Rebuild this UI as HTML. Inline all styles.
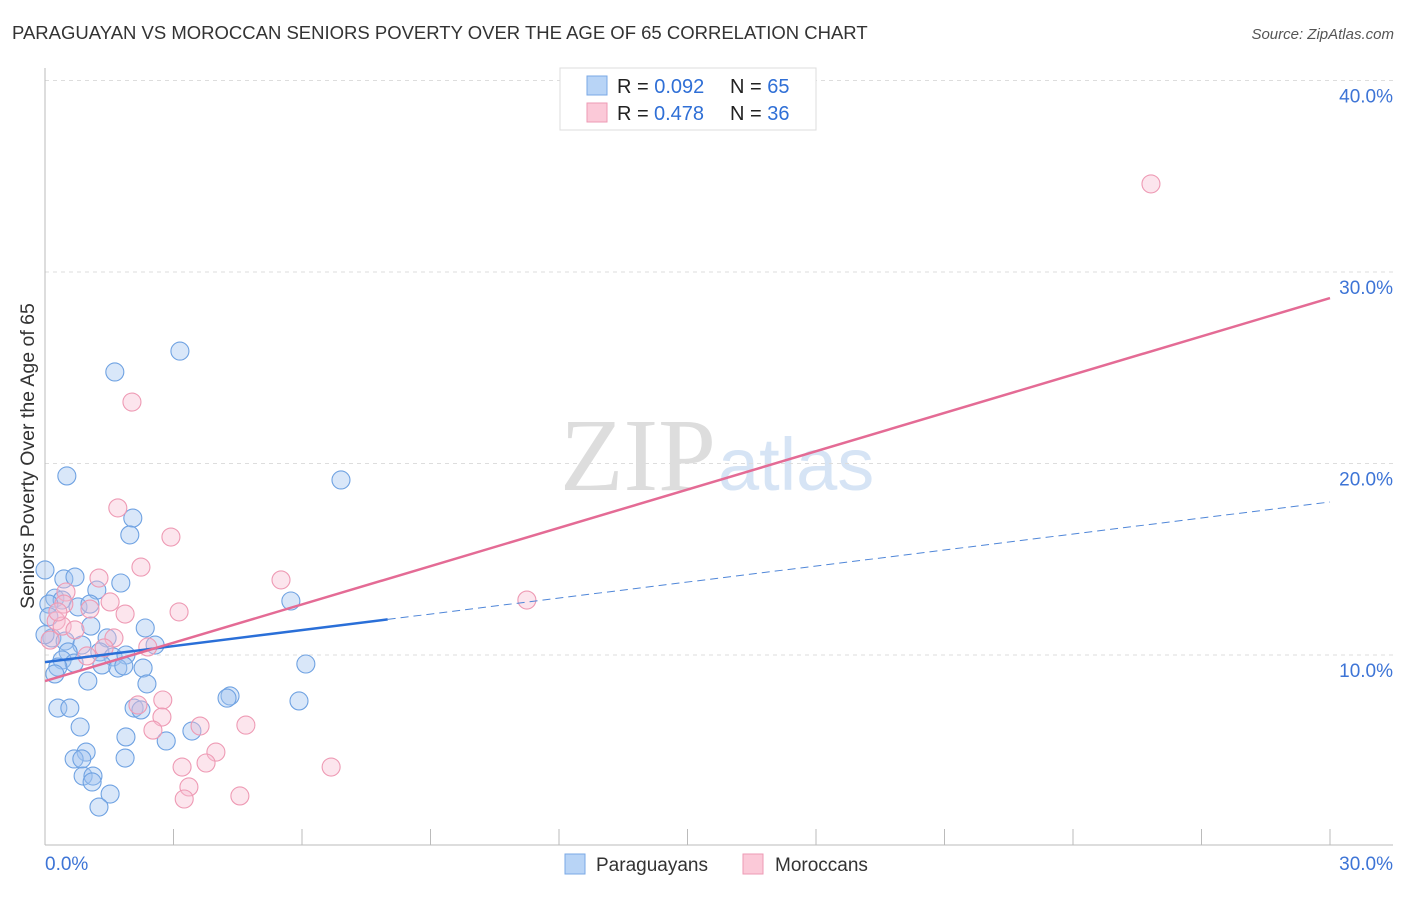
<!DOCTYPE html>
<html><head><meta charset="utf-8"><style>
body{margin:0;background:#fff;font-family:"Liberation Sans",sans-serif}
</style></head><body>
<svg id="c" width="1406" height="892" xmlns="http://www.w3.org/2000/svg" font-family="Liberation Sans, sans-serif">
<text x="12" y="39" font-size="18.5" fill="#333">PARAGUAYAN VS MOROCCAN SENIORS POVERTY OVER THE AGE OF 65 CORRELATION CHART</text>
<text x="1394" y="39" font-size="15" fill="#555" font-style="italic" text-anchor="end">Source: ZipAtlas.com</text>
<text x="716" y="490" font-size="104" fill="#ddd" text-anchor="end" font-family="Liberation Serif, serif">ZIP</text>
<text x="718" y="490" font-size="74" fill="#d6e4f5">atlas</text>
<g id="grid"></g><g id="axes"></g><g id="pts"></g><g id="lines"></g>
<text transform="translate(34,456) rotate(-90)" font-size="19.5" fill="#333" text-anchor="middle">Seniors Poverty Over the Age of 65</text>
<g>
<rect x="560" y="68" width="256" height="62" fill="#fff" stroke="#ddd"/>
<rect x="587" y="76" width="20" height="19" fill="#b8d4f6" stroke="#7aa8e6"/>
<rect x="587" y="103" width="20" height="19" fill="#fbc9d8" stroke="#ee9ab4"/>
<text x="617" y="93" font-size="20" fill="#222">R = <tspan fill="#2f6fd6">0.092</tspan></text>
<text x="730" y="93" font-size="20" fill="#222">N = <tspan fill="#2f6fd6">65</tspan></text>
<text x="617" y="120" font-size="20" fill="#222">R = <tspan fill="#2f6fd6" x="654">0.478</tspan></text>
<text x="730" y="120" font-size="20" fill="#222">N = <tspan fill="#2f6fd6">36</tspan></text>
</g>
<g>
<rect x="565" y="854" width="20" height="20" fill="#b8d4f6" stroke="#7aa8e6"/>
<text x="596" y="871" font-size="19" fill="#333">Paraguayans</text>
<rect x="743" y="854" width="20" height="20" fill="#fbc9d8" stroke="#ee9ab4"/>
<text x="775" y="871" font-size="19" fill="#333">Moroccans</text>
</g>
</svg>
<script>
const blueX=[3.15,1.63,0.51,6.91,2.05,1.98,0.0,0.44,0.70,1.77,1.21,5.74,0.23,0.40,0.09,0.77,1.05,2.34,1.07,0.16,0.47,1.45,0.86,2.57,0.54,1.28,1.59,1.89,0.40,0.68,1.33,2.29,1.70,1.84,0.30,0.23,6.09,1.00,2.38,4.32,4.25,5.93,0.30,0.58,2.08,2.24,0.82,3.43,1.89,2.83,0.96,0.68,0.86,1.87,0.89,1.12,1.10,1.52,1.26,0.0,0.09];
const blueY=[25.87,24.78,19.35,19.14,17.15,16.27,14.44,13.97,14.07,13.76,13.39,12.82,12.97,12.87,12.66,12.51,12.66,11.41,11.51,10.89,10.73,10.89,10.52,10.52,10.16,10.16,9.90,10.00,9.74,9.58,9.48,9.32,9.32,9.43,9.37,9.01,9.53,8.64,8.49,7.86,7.75,7.60,7.23,7.23,7.23,7.13,6.24,6.03,5.72,5.51,4.93,4.57,4.57,4.62,3.68,3.68,3.37,2.74,2.06,11.06,12.0];
const pinkX=[25.82,2.03,1.70,2.94,2.24,1.26,5.51,0.49,1.52,0.44,1.05,3.13,11.25,0.26,0.40,1.87,0.70,1.61,1.38,0.98,2.40,2.75,2.17,2.73,2.52,3.62,4.69,3.99,3.20,3.76,6.68,3.36,3.25,4.55,0.12,0.30];
const pinkY=[34.60,23.21,17.68,16.16,14.59,14.02,13.92,13.29,12.77,12.66,12.40,12.25,12.87,11.78,11.51,12.14,11.31,10.89,10.37,9.95,10.42,7.65,7.39,6.76,6.08,6.29,6.34,4.93,4.15,4.36,4.15,3.11,2.48,2.64,10.78,12.25];
const yTicks=[10,20,30,40];
const yTickLabels=["10.0%","20.0%","30.0%","40.0%"];
const xTicks=[0,3,6,9,12,15,18,21,24,27,30];
const blueTrend=[9.63,17.99];
const blueSolidEnd=8.0;
const pinkTrend=[8.64,28.64];
const X=v=>45+v*1285/30, Y=v=>846.5-v*19.15;
const NS="http://www.w3.org/2000/svg";
function mk(p,t,a){const e=document.createElementNS(NS,t);for(const k in a)e.setAttribute(k,a[k]);document.getElementById(p).appendChild(e);return e;}
yTicks.forEach((t,i)=>{
 const g=mk('grid','line',{x1:45,x2:1393,y1:Y(t),y2:Y(t),stroke:'#ddd','stroke-dasharray':'4,4'});
 
 
 const l=mk('grid','text',{x:1393,y:Y(t)+22,'text-anchor':'end','font-size':19,fill:'#3d74d6'});
 l.textContent=yTickLabels[i];
 
 
});
mk('axes','line',{x1:45,x2:45,y1:68,y2:845,stroke:'#bbb'});
mk('axes','line',{x1:45,x2:1393,y1:845,y2:845,stroke:'#bbb'});
xTicks.forEach(t=>{const e=mk('axes','line',{x1:X(t),x2:X(t),y1:829,y2:845,stroke:'#bbb'});
 
 });
const xl0=mk('axes','text',{x:45,y:870,'font-size':19,fill:'#3d74d6'});xl0.textContent="0.0%";


const xl1=mk('axes','text',{x:1393,y:870,'font-size':19,fill:'#3d74d6','text-anchor':'end'});xl1.textContent="30.0%";


blueX.forEach((x,i)=>{const c=mk('pts','circle',{cx:X(x),cy:Y(blueY[i]),r:9,fill:'rgba(160,196,240,0.4)',stroke:'#6fa2e2','stroke-width':1.1});
 
 });
pinkX.forEach((x,i)=>{const c=mk('pts','circle',{cx:X(x),cy:Y(pinkY[i]),r:9,fill:'rgba(248,190,210,0.4)',stroke:'#ee9ab4','stroke-width':1.1});
 
 });
const bv=x=>blueTrend[0]+(blueTrend[1]-blueTrend[0])*x/30;
const b1=mk('lines','line',{x1:X(0),y1:Y(bv(0)),x2:X(blueSolidEnd),y2:Y(bv(blueSolidEnd)),stroke:'#2a6fd8','stroke-width':2.5});


const b2=mk('lines','line',{x1:X(blueSolidEnd),y1:Y(bv(blueSolidEnd)),x2:X(30),y2:Y(bv(30)),stroke:'#4f86d8','stroke-width':1,'stroke-dasharray':'8,5'});


const p1=mk('lines','line',{x1:X(0),y1:Y(pinkTrend[0]),x2:X(30),y2:Y(pinkTrend[1]),stroke:'#e46b95','stroke-width':2.5});


</script>
</body></html>
